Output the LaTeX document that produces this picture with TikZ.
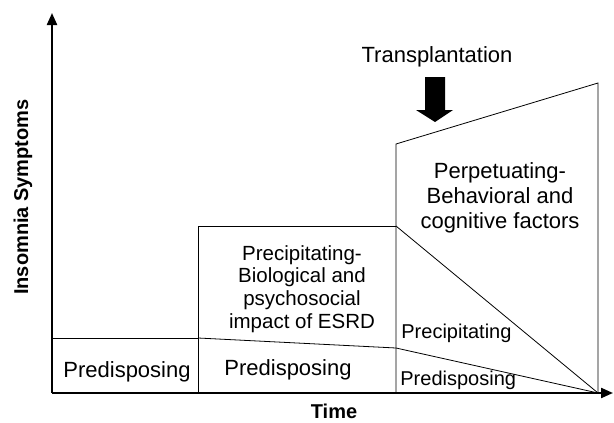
\documentclass[tikz,border=0pt]{standalone}
\usepackage{fontspec}
\setmainfont{Liberation Sans}
\usetikzlibrary{arrows.meta, positioning}
\tikzset{
  big/.style={font=\fontsize{22}{25}\selectfont, align=center},
  mid/.style={font=\fontsize{20.5}{22.7}\selectfont, align=center},
  small/.style={font=\fontsize{20}{23}\selectfont},
  axislabel/.style={font=\fontsize{20}{23}\selectfont\bfseries},
  axis/.style={line width=2.2pt, ->},
}

\begin{document}
\begin{tikzpicture}[x=1pt, y=-1pt, line width=0.8pt, >={Triangle[length=12pt, width=10pt]}]
        \useasboundingbox (0,0) rectangle (614,423);
        % Corners
        \coordinate (O) at (52,393);
        \coordinate (Ytop) at (52,13);
        \coordinate (Xend) at (613,393);
        \coordinate (b1top) at (52,338);
        \coordinate (b2low) at (198,393);
        \coordinate (b2mid) at (198,338);
        \coordinate (b2top) at (198,226);
        \coordinate (b3low) at (396,393);
        \coordinate (b3mid) at (396,348);
        \coordinate (b3sec) at (396,226);
        \coordinate (b3top) at (396,144);
        \coordinate (b4top) at (598,83);
        \coordinate (b4low) at (598,393);

        % Stages
        \draw (b1top) -- (b2mid);
        \draw (b2low) -- (b2top) -- (b3sec);
        \draw (b2mid) -- (b3mid) -- (b4low);
        \draw (b3sec) -- (b4low);
        \draw (b3low) -- (b3top) -- (b4top) -- (b4low);

        % Axes
        \draw[axis] (O) -- (Ytop);
        \draw[axis] (O) -- (Xend);

        % Transplantation arrow
        \fill (425,77) -- (445,77) -- (445,110) -- (453,110) -- (435,122)
              -- (416,110) -- (425,110) -- cycle;

        % Labels
        \node[big, anchor=base] (trans) at (437,63) {Transplantation};
        \node[axislabel, rotate=90] (ylab) at (23,197) {Insomnia Symptoms};
        \node[axislabel, anchor=base] (xlab) at (334,418) {Time};
        \node[big, anchor=base] (pre1) at (127,377) {Predisposing};
        \node[big, anchor=base] (pre2) at (288,375) {Predisposing};
        \node[mid] (prec2) at (302,289) {Precipitating-\\Biological and\\psychosocial\\impact of ESRD};
        \node[big] (perp3) at (500,198) {Perpetuating-\\Behavioral and\\cognitive factors};
        \node[small, anchor=base west, inner sep=0pt] (prec3) at (401,338) {Precipitating};
        \node[small, anchor=base west, inner sep=0pt] (pre3) at (400,385) {Predisposing};
\end{tikzpicture}
\end{document}
